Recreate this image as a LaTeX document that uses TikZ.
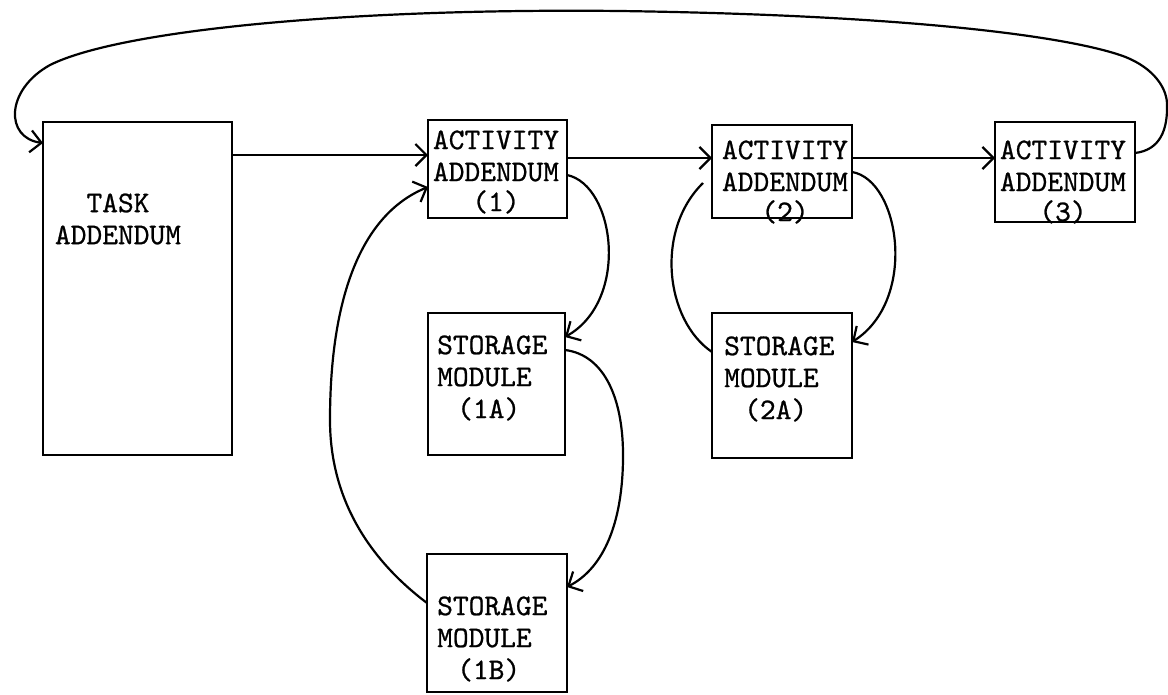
\documentclass[tikz,border=0pt]{standalone}
\usepackage{fontspec}
\newfontfamily\typew{lmmono10-regular.otf}[FakeBold=0.8]
\usetikzlibrary{arrows.meta}
\begin{document}
\begin{tikzpicture}[x=1pt,y=-1pt,
  box/.style={draw, rectangle, line width=2.3pt, inner sep=0pt, outer sep=0pt},
  lbl/.style={font=\typew\fontsize{30}{32}\selectfont, inner sep=0pt},
  plain/.style={line width=2.2pt},
  conn/.style={plain, -{Straight Barb[length=11pt,width=22pt]}}]
\useasboundingbox[fill=white] (0,0) rectangle (1168,694);
% boxes
\node[box, minimum width=189pt, minimum height=333pt] (task) at (137.5,288.5) {};
\node[box, minimum width=139pt, minimum height=98pt]  (a1)   at (497.5,169) {};
\node[box, minimum width=140pt, minimum height=93pt]  (a2)   at (782,171.5) {};
\node[box, minimum width=140pt, minimum height=100pt] (a3)   at (1065,172) {};
\node[box, minimum width=137pt, minimum height=142pt] (s1a)  at (496.5,384) {};
\node[box, minimum width=140pt, minimum height=145pt] (s2a)  at (782,385.5) {};
\node[box, minimum width=140pt, minimum height=138pt] (s1b)  at (497,623) {};
% texts
\node[lbl, align=center] (taskt) at (118,219) {TASK\\ADDENDUM};
\node[lbl, align=center] (a1t) at (496,172) {ACTIVITY\\ADDENDUM\\[-2pt](1)};
\node[lbl, align=center] (a2t) at (785,182) {ACTIVITY\\ADDENDUM\\[-2pt](2)};
\node[lbl, align=center] (a3t) at (1063,182) {ACTIVITY\\ADDENDUM\\[-2pt](3)};
\node[lbl, align=left, anchor=west] (s1at) at (437,378) {STORAGE\\MODULE\\\hspace*{20pt}(1A)};
\node[lbl, align=left, anchor=west] (s2at) at (724,379) {STORAGE\\MODULE\\\hspace*{20pt}(2A)};
\node[lbl, align=left, anchor=west] (s1bt) at (437,639) {STORAGE\\MODULE\\\hspace*{20pt}(1B)};
% straight connectors
\draw[conn] ([yshift=-33pt]task.north east) -- ([yshift=-35pt]a1.north west);
\draw[conn] ([yshift=-38pt]a1.north east) -- ([yshift=-33pt]a2.north west);
\draw[conn] ([yshift=-33pt]a2.north east) -- ([yshift=-36pt]a3.north west);
% big loop back to task
\draw[conn] ([yshift=-31pt]a3.north east) .. controls (1160,150) and (1168,130) .. (1167,103)
  .. controls (1166,85) and (1150,65) .. (1120,55)
  .. controls (1060,35) and (900,15) .. (620,11)
  .. controls (350,8) and (120,30) .. (50,65)
  .. controls (5,90) and (5,138) .. ([yshift=-21pt]task.north west);
% storage loops
\draw[conn] ([yshift=-55pt]a1.north east) .. controls (615,185) and (630,300) .. ([yshift=-24pt]s1a.north east);
\draw[conn] ([yshift=-37pt]s1a.north east) .. controls (605,355) and (624,400) .. (623,460)
  .. controls (622,530) and (600,570) .. ([yshift=-33pt]s1b.north east);
\draw[conn] ([yshift=-49pt]s1b.north west) .. controls (370,560) and (330,500) .. (330,420)
  .. controls (330,300) and (360,215) .. ([yshift=-67pt]a1.north west);
\draw[conn] ([yshift=-47pt]a2.north east) .. controls (900,180) and (918,300) .. ([yshift=-29pt]s2a.north east);
\draw[plain] ([yshift=-39pt]s2a.north west) .. controls (665,320) and (655,230) .. ([xshift=-9pt,yshift=-58pt]a2.north west);
\end{tikzpicture}
\end{document}
